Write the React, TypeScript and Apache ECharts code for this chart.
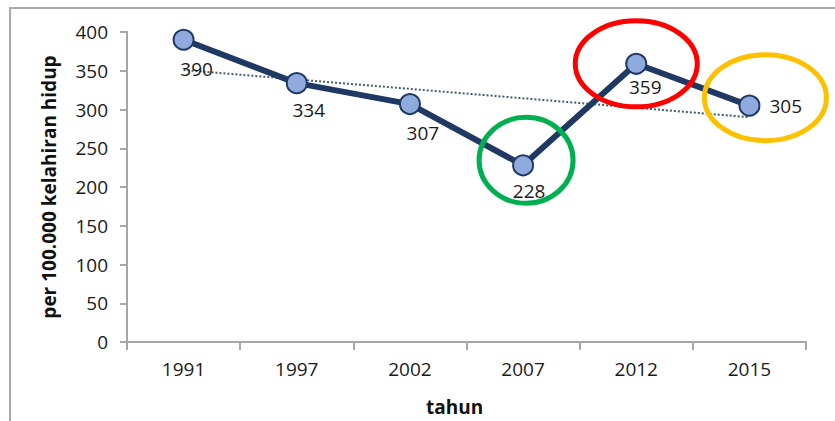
import React, { useEffect, useRef } from "react";
import * as echarts from "echarts";

const years = ["1991", "1997", "2002", "2007", "2012", "2015"];
const values = [390, 334, 307, 228, 359, 305];
const trendValues = [351, 290];
const yTicks = { min: 0, max: 400, interval: 50 };

const labelOffsets: Record<string, { position: string; offset: number[] }> = {
  "1991": { position: "bottom", offset: [13, 4] },
  "1997": { position: "bottom", offset: [12, 1] },
  "2002": { position: "bottom", offset: [13, 3] },
  "2007": { position: "bottom", offset: [6, 0] },
  "2012": { position: "bottom", offset: [9, -2] },
  "2015": { position: "right", offset: [4, 0] },
};

const highlights = [
  { year: "2012", color: "#ff0000", dx: 0, dy: 0, rx: 61, ry: 43 },
  { year: "2007", color: "#00b050", dx: 3, dy: -5, rx: 47, ry: 43 },
  { year: "2015", color: "#ffc000", dx: 16, dy: -8, rx: 61, ry: 43 },
];

const FONT = "'Open Sans', 'Noto Sans', sans-serif";
const TEXT = "#1a1a1a";

export default function App() {
  const ref = useRef<HTMLDivElement>(null);
  useEffect(() => {
    if (!ref.current) return;
    const chart = echarts.init(ref.current, null, { renderer: "svg" });
    chart.setOption({
      animation: false,
      textStyle: { fontFamily: FONT },
      grid: { left: 127, right: 29, top: 32, bottom: 79 },
      xAxis: {
        type: "category",
        data: years,
        boundaryGap: true,
        axisLine: { lineStyle: { color: "#a6a6a6", width: 2 } },
        axisTick: { show: true, length: 8, lineStyle: { color: "#a6a6a6", width: 2 } },
        axisLabel: { color: TEXT, fontSize: 19, margin: 17, fontFamily: FONT },
      },
      yAxis: {
        type: "value",
        min: yTicks.min,
        max: yTicks.max,
        interval: yTicks.interval,
        name: "per 100.000 kelahiran hidup",
        nameLocation: "middle",
        nameGap: 69,
        nameRotate: 90,
        nameTextStyle: { color: "#111", fontSize: 19, fontWeight: "bold", fontFamily: FONT },
        splitLine: { show: false },
        axisLine: { show: true, lineStyle: { color: "#a6a6a6", width: 2 } },
        axisTick: { show: true, length: 7, lineStyle: { color: "#a6a6a6", width: 2 } },
        axisLabel: { color: TEXT, fontSize: 19, margin: 19, fontFamily: FONT },
      },
      series: [
        {
          type: "line",
          data: [
            [years[0], trendValues[0]],
            [years[years.length - 1], trendValues[1]],
          ],
          symbol: "none",
          lineStyle: { color: "#3f5d68", width: 2, type: "dotted" },
          z: 1,
          silent: true,
        },
        {
          type: "line",
          data: values.map((v, i) => ({
            value: v,
            label: {
              show: true,
              position: labelOffsets[years[i]].position,
              offset: labelOffsets[years[i]].offset,
            },
          })),
          symbol: "circle",
          symbolSize: 20,
          lineStyle: { color: "#1f3864", width: 6 },
          itemStyle: { color: "#8faadc", borderColor: "#1f3864", borderWidth: 2 },
          label: { show: true, color: TEXT, fontSize: 19, fontFamily: FONT },
          z: 3,
        },
      ],
    });

    const ellipses = highlights.map((h) => {
      const idx = years.indexOf(h.year);
      const p = chart.convertToPixel({ gridIndex: 0 }, [idx, values[idx]]) as number[];
      return {
        type: "ellipse",
        z: 100,
        shape: { cx: p[0] + h.dx, cy: p[1] + h.dy, rx: h.rx, ry: h.ry },
        style: { fill: "none", stroke: h.color, lineWidth: 5 },
      };
    });

    chart.setOption({
      graphic: [
        {
          type: "polyline",
          z: 0,
          shape: { points: [[10, 421], [10, 8], [835, 8]] },
          style: { stroke: "#aaaaaa", lineWidth: 2, fill: "none" },
        },
        ...ellipses,
        {
          type: "text",
          left: 426,
          top: 397,
          style: { text: "tahun", fill: "#111", font: `bold 19px ${FONT}` },
        },
      ],
    });

    return () => chart.dispose();
  }, []);
  return (
    <div
      ref={ref}
      style={{ position: "fixed", left: 0, top: 0, width: 835, height: 421, background: "#fff" }}
    />
  );
}
